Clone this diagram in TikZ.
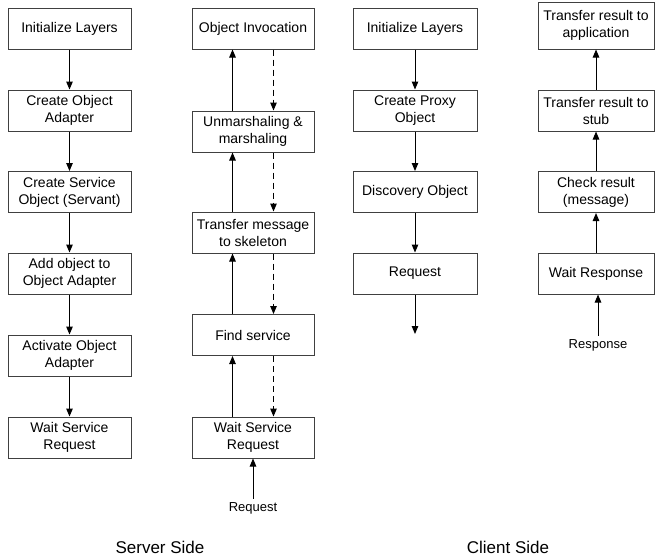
\documentclass[tikz,border=0pt]{standalone}
\usepackage{fontspec}
\setmainfont{Liberation Sans}
\usetikzlibrary{arrows.meta}
\begin{document}
\begin{tikzpicture}[x=1pt,y=-1pt,
 box/.style={draw=black!75, line width=1pt, align=center, inner sep=0pt, minimum height=41pt, font=\fontsize{14}{17}\selectfont},
 wA/.style={minimum width=123pt},
 wB/.style={minimum width=122pt},
 wC/.style={minimum width=124pt},
 wD/.style={minimum width=116pt},
 arr/.style={line width=1pt, -{Triangle[length=8pt,width=6.5pt]}},
 darr/.style={arr, dash pattern=on 6pt off 4pt},
 lbl/.style={font=\fontsize{13}{15}\selectfont, inner sep=0pt},
 side/.style={font=\fontsize{17}{20}\selectfont, inner sep=0pt}]
\useasboundingbox (0,0) rectangle (655,558);
% column 1
\node[box,wA] (a1) at (69.5,28.5) {Initialize Layers};
\node[box,wA] (a2) at (69.5,110.5) {Create Object\\Adapter};
\node[box,wA] (a3) at (69.5,192) {Create Service\\Object (Servant)};
\node[box,wA] (a4) at (69.5,273.5) {Add object to\\Object Adapter};
\node[box,wA] (a5) at (69.5,355.5) {Activate Object\\Adapter};
\node[box,wA] (a6) at (69.5,437.5) {Wait Service\\Request};
\foreach \i/\j in {a1/a2,a2/a3,a3/a4,a4/a5,a5/a6}
  \draw[arr] (\i.south) -- (\j.north);
% column 2
\node[box,wB] (b1) at (253,28.5) {Object Invocation};
\node[box,wB] (b2) at (253,131.5) {Unmarshaling \&\\marshaling};
\node[box,wB] (b3) at (253,232.5) {Transfer message\\to skeleton};
\node[box,wB] (b4) at (253,335) {Find service};
\node[box,wB] (b5) at (253,437.5) {Wait Service\\Request};
\foreach \i/\j in {b1/b2,b2/b3,b3/b4,b4/b5}{
  \draw[darr] ([xshift=20.5pt]\i.south) -- ([xshift=20.5pt]\j.north);
  \draw[arr] ([xshift=-20.5pt]\j.north) -- ([xshift=-20.5pt]\i.south);
}
\node[lbl] (req) at (253,508) {Request};
\draw[arr, shorten <=3pt] (req.north) -- (b5.south);
% column 3
\node[box,wC] (c1) at (415,28.5) {Initialize Layers};
\node[box,wC] (c2) at (415,110.5) {Create Proxy\\Object};
\node[box,wC] (c3) at (415,192) {Discovery Object};
\node[box,wC] (c4) at (415,273.5) {Request};
\foreach \i/\j in {c1/c2,c2/c3,c3/c4}
  \draw[arr] (\i.south) -- (\j.north);
\coordinate (cend) at (415,334);
\draw[arr] (c4.south) -- (cend);
% column 4
\node[box,wD,minimum height=47pt] (d1) at (596,25.5) {Transfer result to\\application};
\node[box,wD] (d2) at (596,110.5) {Transfer result to\\stub};
\node[box,wD] (d3) at (596,192) {Check result\\(message)};
\node[box,wD] (d4) at (596,273.5) {Wait Response};
\foreach \i/\j in {d2/d1,d3/d2,d4/d3}
  \draw[arr] (\i.north) -- (\j.south);
\node[lbl] (resp) at (598,345) {Response};
\draw[arr, shorten <=3pt] (resp.north) -- (resp.north |- d4.south);
% side labels
\node[side] (ss) at (160,547) {Server Side};
\node[side] (cs) at (508,547) {Client Side};
\end{tikzpicture}
\end{document}
